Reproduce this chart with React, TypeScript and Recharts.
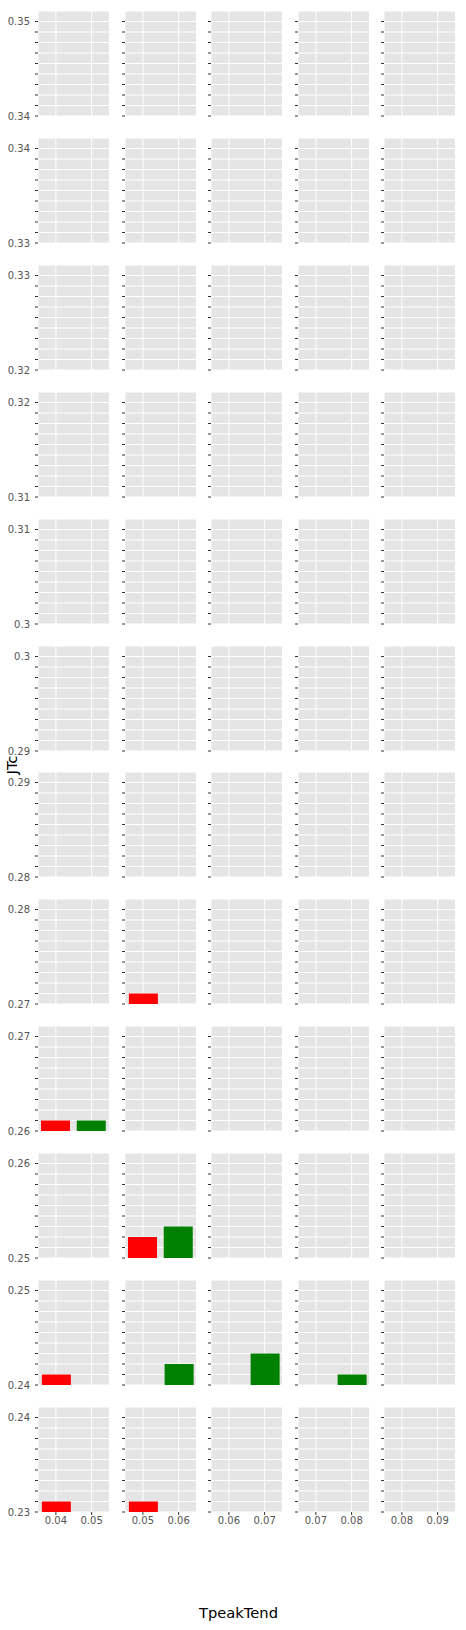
import React from 'react';
import { BarChart, Bar, XAxis, YAxis, CartesianGrid, Cell } from 'recharts';

// Facet rows (JTc bins, bottom value of each panel), top to bottom
const rowBases = [0.34, 0.33, 0.32, 0.31, 0.3, 0.29, 0.28, 0.27, 0.26, 0.25, 0.24, 0.23];
// Facet columns (TpeakTend)
const colXTicks = [
  [0.04, 0.05],
  [0.05, 0.06],
  [0.06, 0.07],
  [0.07, 0.08],
  [0.08, 0.09],
];
const colXDomains = [
  [0.035, 0.055],
  [0.045, 0.065],
  [0.055, 0.075],
  [0.065, 0.085],
  [0.075, 0.095],
];

// Red series
const redRows = [7, 8, 9, 10, 11, 11];
const redCols = [1, 0, 1, 0, 0, 1];
const redX = [0.05, 0.04, 0.05, 0.04, 0.04, 0.05];
const redJTc = [0.271, 0.261, 0.252, 0.241, 0.231, 0.231];

// Green series
const greenRows = [8, 9, 10, 10, 10];
const greenCols = [0, 1, 1, 2, 3];
const greenX = [0.05, 0.06, 0.06, 0.07, 0.08];
const greenJTc = [0.261, 0.253, 0.242, 0.243, 0.241];

const xTitle = 'TpeakTend';
const yTitle = 'JTc';

// layout
const LEFT0 = 38;
const COL_PITCH = 86.6;
const PANEL_W = 71.5;
const BOTTOM0 = 116.3;
const ROW_PITCH = 126.85;
const PANEL_H = 105;
const PAD = 8;
const FONT = 'DejaVu Sans, sans-serif';

function panelData(r: number, c: number) {
  const out: { x: number; v: number; fill: string }[] = [];
  redRows.forEach((rr, i) => {
    if (rr === r && redCols[i] === c) out.push({ x: redX[i], v: redJTc[i], fill: '#FF0000' });
  });
  greenRows.forEach((rr, i) => {
    if (rr === r && greenCols[i] === c) out.push({ x: greenX[i], v: greenJTc[i], fill: '#008000' });
  });
  return out;
}

function Panel({ r, c }: { r: number; c: number }) {
  const base = rowBases[r];
  const yTicks = Array.from({ length: 10 }, (_, i) => Number((base + i * 0.001).toFixed(3)));
  const isBottom = r === rowBases.length - 1;
  const yw = c === 0 ? 38 : 8;
  const xh = isBottom ? 24 : 0;
  const left = LEFT0 + c * COL_PITCH - yw;
  const bottom = BOTTOM0 + r * ROW_PITCH;
  const top = bottom - PANEL_H - PAD;
  const data = panelData(r, c);
  return (
    <div style={{ position: 'absolute', left, top }}>
      <BarChart
        width={yw + PANEL_W}
        height={PANEL_H + xh + 2 * PAD}
        data={data}
        margin={{ top: PAD, right: 0, bottom: PAD, left: 0 }}
      >
        <CartesianGrid fill="#E5E5E5" stroke="#FFFFFF" strokeWidth={1} />
        <XAxis
          dataKey="x"
          type="number"
          domain={colXDomains[c]}
          ticks={colXTicks[c]}
          allowDataOverflow
          hide={!isBottom}
          height={xh}
          axisLine={false}
          tickSize={3}
          tickMargin={2}
          tickLine={{ stroke: '#333333' }}
          tick={{ fontFamily: FONT, fontSize: 10, fill: '#555555' }}
          interval={0}
        />
        <YAxis
          type="number"
          domain={[base, Number((base + 0.01).toFixed(3))]}
          ticks={yTicks}
          allowDataOverflow
          width={yw}
          axisLine={false}
          tickSize={3}
          tickMargin={5}
          tickLine={{ stroke: '#333333' }}
          interval={0}
          tick={{ fontFamily: FONT, fontSize: 10, fill: '#555555' }}
          tickFormatter={(v: number, i: number) =>
            c === 0 && (i === 0 || i === yTicks.length - 1) ? String(Number(v.toFixed(2))) : ''
          }
        />
        <Bar dataKey="v" barSize={29} isAnimationActive={false}>
          {data.map((d, i) => (
            <Cell key={i} fill={d.fill} />
          ))}
        </Bar>
      </BarChart>
    </div>
  );
}

export default function App() {
  const panels = [];
  for (let r = 0; r < rowBases.length; r++) {
    for (let c = 0; c < colXTicks.length; c++) {
      panels.push(<Panel key={`${r}-${c}`} r={r} c={c} />);
    }
  }
  return (
    <div style={{ position: 'absolute', left: 0, top: 0, width: 466, height: 1630, background: '#fff', overflow: 'hidden' }}>
      {panels}
      <div
        style={{
          position: 'absolute',
          left: 238.5,
          top: 1604,
          transform: 'translateX(-50%)',
          fontFamily: FONT,
          fontSize: 14.7,
          color: '#000',
          whiteSpace: 'nowrap',
        }}
      >
        {xTitle}
      </div>
      <div
        style={{
          position: 'absolute',
          left: 11,
          top: 765,
          transform: 'translate(-50%, -50%) rotate(-90deg)',
          fontFamily: FONT,
          fontSize: 14.7,
          color: '#000',
          whiteSpace: 'nowrap',
        }}
      >
        {yTitle}
      </div>
    </div>
  );
}
